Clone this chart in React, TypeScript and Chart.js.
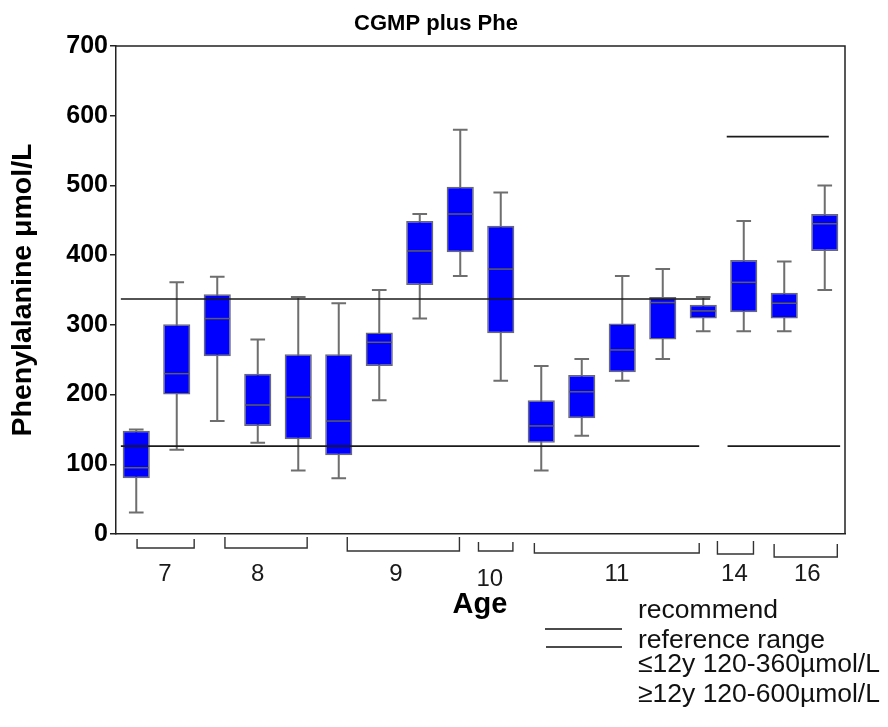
import React, { useEffect, useRef } from 'react';
import { Chart, registerables } from 'chart.js';

Chart.register(...registerables);

const FONT = '"Liberation Sans", Arial, Helvetica, sans-serif';

// ---- data ----
const boxLabels = ['7-1', '7-2', '8-1', '8-2', '8-3', '9-1', '9-2', '9-3', '9-4', '10-1', '11-1', '11-2', '11-3', '11-4', '11-5', '14-1', '16-1', '16-2'];
const whiskerLow = [31, 121, 162, 131, 91, 80, 192, 309, 370, 220, 91, 141, 220, 251, 291, 291, 291, 350];
const q1 = [80, 200, 255, 155, 136, 113, 241, 357, 404, 288, 131, 166, 232, 279, 309, 318, 309, 406];
const median = [95, 230, 309, 185, 196, 162, 275, 406, 459, 380, 155, 204, 264, 332, 320, 361, 331, 445];
const q3 = [148, 301, 344, 230, 258, 258, 289, 449, 498, 442, 192, 228, 302, 340, 329, 393, 346, 459];
const whiskerHigh = [150, 361, 369, 279, 340, 331, 350, 459, 580, 490, 241, 251, 370, 380, 340, 449, 391, 500];

// reference lines (value, start and end in category-index units)
const refValue = [337, 126, 126, 570];
const refStart = [-0.38, -0.38, 14.6, 14.58];
const refEnd = [14.17, 13.9, 17.38, 17.1];

// age group brackets (category-index units)
const ageGroups = ['7', '8', '9', '10', '11', '14', '16'];
const groupStart = [0.02, 2.19, 5.21, 8.45, 9.83, 14.35, 15.75];
const groupEnd = [1.43, 4.22, 7.98, 9.3, 13.9, 15.24, 17.31];
const groupLabelPos = [0.71, 3.0, 6.41, 8.73, 11.87, 14.77, 16.57];

const yTicksMin = 0;
const yTicksMax = 700;
const yTickStep = 100;

const titleText = 'CGMP plus Phe';
const yTitle = 'Phenylalanine μmol/L';
const xTitle = 'Age';
const legendLines = ['recommend', 'reference range', '≤12y 120-360µmol/L', '≥12y 120-600µmol/L'];

// ---- styles ----
const BRACKET_TOP = [5, 3, 3, 8, 9, 7, 10];
const BRACKET_BOTTOM = [14, 14, 17, 17, 19, 20, 23];
const LABEL_BASE = [46.5, 46.5, 47, 52, 46.5, 46.5, 46.5];

const boxPlugin = {
  id: 'boxExtras',
  beforeDatasetsDraw(chart: any) {
    const meta = chart.getDatasetMeta(0);
    const y = chart.scales.y;
    const ctx = chart.ctx;
    ctx.save();
    ctx.strokeStyle = '#6e6e6e';
    ctx.lineWidth = 2;
    meta.data.forEach((el: any, i: number) => {
      const x = el.x;
      const cap = el.width * 0.27;
      const yl = y.getPixelForValue(whiskerLow[i]);
      const yh = y.getPixelForValue(whiskerHigh[i]);
      ctx.beginPath();
      ctx.moveTo(x, yl);
      ctx.lineTo(x, yh);
      ctx.moveTo(x - cap, yl);
      ctx.lineTo(x + cap, yl);
      ctx.moveTo(x - cap, yh);
      ctx.lineTo(x + cap, yh);
      ctx.stroke();
    });
    ctx.restore();
  },
  afterDatasetsDraw(chart: any) {
    const meta = chart.getDatasetMeta(0);
    const y = chart.scales.y;
    const xs = chart.scales.x;
    const ctx = chart.ctx;
    ctx.save();
    // medians
    ctx.strokeStyle = '#5e5e5e';
    ctx.lineWidth = 1.5;
    meta.data.forEach((el: any, i: number) => {
      const ym = y.getPixelForValue(median[i]);
      ctx.beginPath();
      ctx.moveTo(el.x - el.width / 2 + 1, ym);
      ctx.lineTo(el.x + el.width / 2 - 1, ym);
      ctx.stroke();
    });
    // reference lines
    ctx.strokeStyle = '#1a1a1a';
    ctx.lineWidth = 1.6;
    refValue.forEach((v, i) => {
      const yy = y.getPixelForValue(v);
      ctx.beginPath();
      ctx.moveTo(xs.getPixelForValue(refStart[i]), yy);
      ctx.lineTo(xs.getPixelForValue(refEnd[i]), yy);
      ctx.stroke();
    });
    ctx.restore();
  },
  afterDraw(chart: any) {
    const ctx = chart.ctx;
    const area = chart.chartArea;
    const xs = chart.scales.x;
    ctx.save();
    // frame top & right
    ctx.strokeStyle = '#222';
    ctx.lineWidth = 1.5;
    ctx.beginPath();
    ctx.moveTo(area.left, area.top);
    ctx.lineTo(area.right, area.top);
    ctx.lineTo(area.right, area.bottom);
    ctx.stroke();

    // brackets
    ctx.strokeStyle = '#333';
    ctx.lineWidth = 1.4;
    ctx.fillStyle = '#1a1a1a';
    ctx.font = `24px ${FONT}`;
    ctx.textAlign = 'center';
    ctx.textBaseline = 'alphabetic';
    ageGroups.forEach((lab, i) => {
      const x1 = xs.getPixelForValue(groupStart[i]);
      const x2 = xs.getPixelForValue(groupEnd[i]);
      const yt = area.bottom + BRACKET_TOP[i];
      const yb = area.bottom + BRACKET_BOTTOM[i];
      ctx.beginPath();
      ctx.moveTo(x1, yt);
      ctx.lineTo(x1, yb);
      ctx.lineTo(x2, yb);
      ctx.lineTo(x2, yt);
      ctx.stroke();
      ctx.fillText(lab, xs.getPixelForValue(groupLabelPos[i]), area.bottom + LABEL_BASE[i]);
    });

    // x title
    ctx.fillStyle = '#000';
    ctx.font = `bold 29px ${FONT}`;
    ctx.fillText(xTitle, 480, 613);

    // chart title
    ctx.font = `bold 22px ${FONT}`;
    ctx.fillText(titleText, 436, 30);

    // legend
    ctx.strokeStyle = '#111';
    ctx.lineWidth = 1.5;
    ctx.beginPath();
    ctx.moveTo(545, 629);
    ctx.lineTo(622, 629);
    ctx.moveTo(546, 647);
    ctx.lineTo(622, 647);
    ctx.stroke();
    ctx.font = `26.5px ${FONT}`;
    ctx.textAlign = 'left';
    ctx.fillStyle = '#111';
    const bases = [618, 648, 672, 702];
    legendLines.forEach((t, i) => ctx.fillText(t, 638, bases[i]));
    ctx.restore();
  },
};

export default function App() {
  const canvasRef = useRef<HTMLCanvasElement>(null);
  useEffect(() => {
    const canvas = canvasRef.current;
    if (!canvas) return;
    const chart = new Chart(canvas, {
      type: 'bar',
      data: {
        labels: boxLabels,
        datasets: [
          {
            label: 'IQR',
            data: boxLabels.map((_, i) => [q1[i], q3[i]]),
            backgroundColor: '#0000FF',
            borderColor: '#6a6a6a',
            borderWidth: 1.5,
            borderSkipped: false,
            barPercentage: 0.67,
            categoryPercentage: 1,
          } as any,
        ],
      },
      options: {
        responsive: false,
        devicePixelRatio: 1,
        animation: false,
        layout: { padding: { top: 46, right: 43, left: 0, bottom: 0 } },
        plugins: {
          legend: { display: false },
          tooltip: { enabled: false },
          title: { display: false },
        },
        scales: {
          x: {
            type: 'category',
            offset: true,
            grid: { display: false },
            ticks: { display: false },
            border: { display: true, color: '#222', width: 1.5 },
            afterFit: (s: any) => {
              s.height = 193;
            },
          },
          y: {
            type: 'linear',
            min: yTicksMin,
            max: yTicksMax,
            ticks: {
              stepSize: yTickStep,
              color: '#000',
              padding: 2,
              font: { family: FONT, size: 25, weight: 'bold' },
            },
            grid: {
              drawOnChartArea: false,
              drawTicks: true,
              tickLength: 6,
              color: '#222',
              lineWidth: 1.5,
            },
            border: { display: true, color: '#222', width: 1.5 },
            title: {
              display: true,
              text: yTitle,
              color: '#000',
              font: { family: FONT, size: 28.5, weight: 'bold' },
              padding: { top: 6, bottom: 0 },
            },
            afterFit: (s: any) => {
              s.width = 116;
            },
          },
        },
      } as any,
      plugins: [boxPlugin],
    });
    return () => chart.destroy();
  }, []);
  return (
    <div style={{ position: 'fixed', left: 0, top: 0, width: 888, height: 727, background: '#fff' }}>
      <canvas ref={canvasRef} width={888} height={727} style={{ width: 888, height: 727, display: 'block' }} />
    </div>
  );
}
